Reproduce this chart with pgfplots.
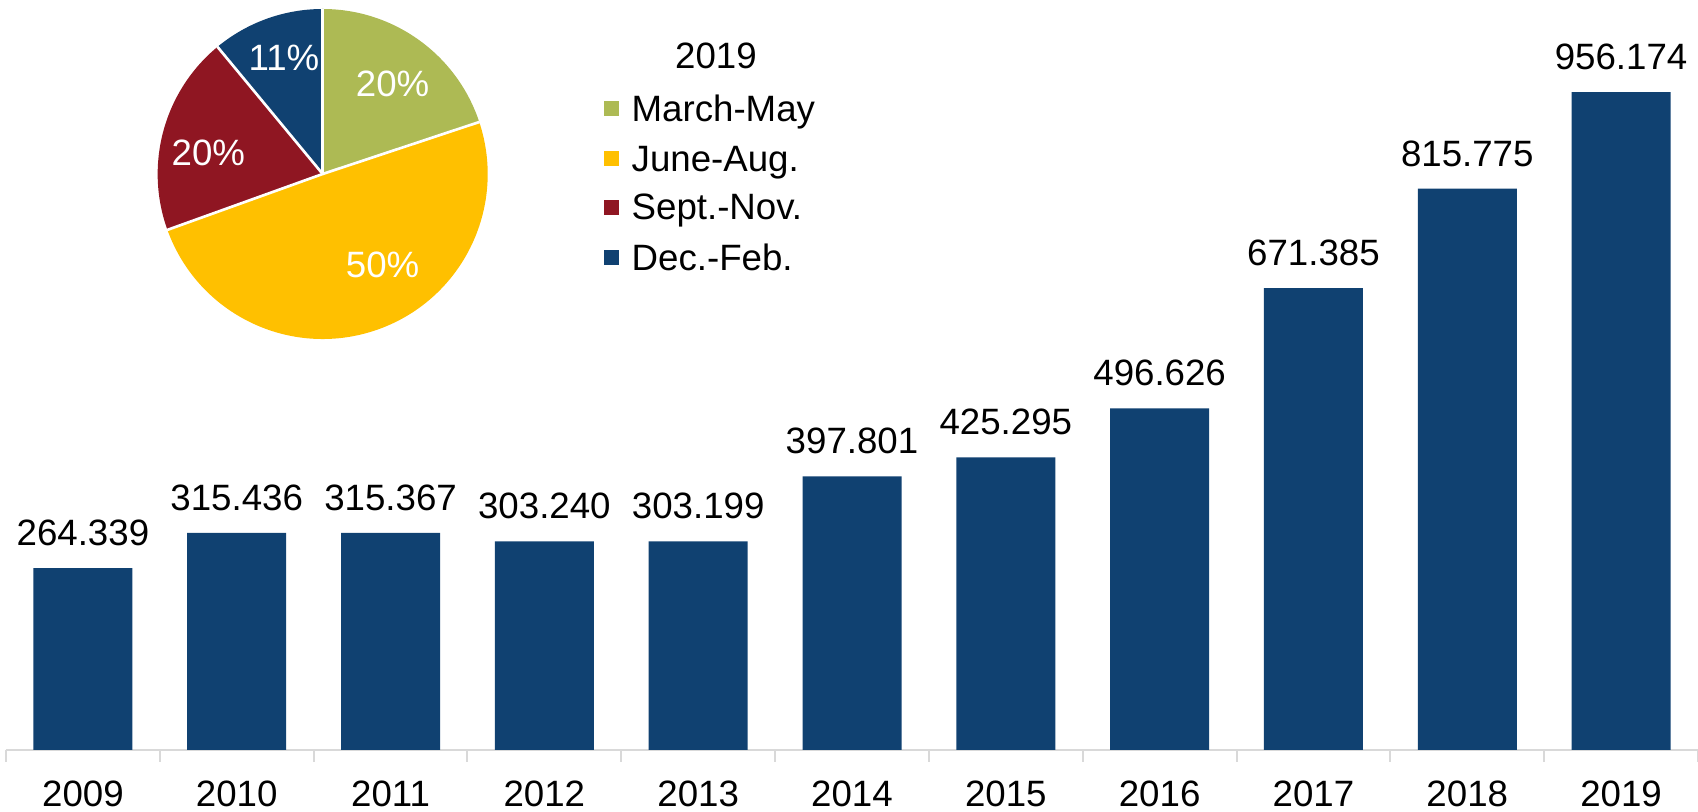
\documentclass[border=0pt]{standalone}
\usepackage{fontspec}
\setmainfont{Liberation Sans}
\usepackage{pgfplots}
\usepackage{pgfplotstable}
\pgfplotsset{compat=1.18}

\definecolor{barblue}{RGB}{16,65,113}
\definecolor{pieG}{RGB}{173,186,84}
\definecolor{pieY}{RGB}{255,192,0}
\definecolor{pieR}{RGB}{143,22,34}
\definecolor{pieB}{RGB}{16,65,113}
\definecolor{axisgray}{RGB}{217,217,217}

\pgfplotstableread{
x  y        lab
0  264.339  264.339
1  315.436  315.436
2  315.367  315.367
3  303.240  303.240
4  303.199  303.199
5  397.801  397.801
6  425.295  425.295
7  496.626  496.626
8  671.385  671.385
9  815.775  815.775
10 956.174  956.174
}\bars

\newcommand{\lbl}{\fontsize{11}{13.2}\selectfont}

\begin{document}
\begin{tikzpicture}
\useasboundingbox (-1.8pt,-18.6pt) rectangle (507.6pt,225pt);
\begin{axis}[
    at={(0,0)}, anchor=south west,
    scale only axis,
    width=507.6pt, height=225pt,
    xmin=-0.5, xmax=10.5,
    ymin=0, ymax=1090,
    axis x line*=bottom,
    axis y line=none,
    x axis line style={draw=axisgray, line width=0.6pt},
    xtick={0,...,10},
    xticklabels={2009,2010,2011,2012,2013,2014,2015,2016,2017,2018,2019},
    minor xtick={-0.5,0.5,...,10.5},
    tick align=outside,
    major tick length=0pt,
    minor tick length=3.6pt,
    minor tick style={draw=axisgray, line width=0.6pt},
    xticklabel style={font=\lbl, anchor=base, yshift=-17.1pt},
    ybar, bar width=29.7pt,
    clip=false,
    nodes near coords,
    point meta=explicit symbolic,
    every node near coord/.append style={font=\lbl, anchor=base, yshift=6.8pt, inner sep=0pt},
]
\addplot[fill=barblue, draw=none] table[x=x, y=y, meta=lab] {\bars};
\end{axis}

% pie (2019 by season), centre and radius in canvas units
\begin{scope}[shift={(95.0pt,172.8pt)}]
  \def\pieang{90}
  \foreach \v/\c in {19.9/pieG, 49.6/pieY, 19.5/pieR, 11.0/pieB}{
    \pgfmathsetmacro\pend{\pieang-3.6*\v}
    \fill[color=\c] (0,0) -- (\pieang:49.5pt) arc[start angle=\pieang, end angle=\pend, radius=49.5pt] -- cycle;
    \global\let\pieang\pend
  }
  \def\pieang{90}
  \foreach \v in {19.9, 49.6, 19.5, 11.0}{
    \draw[white, line width=0.8pt] (0,0) -- (\pieang:49.6pt);
    \pgfmathsetmacro\pend{\pieang-3.6*\v}
    \global\let\pieang\pend
  }
  \node[white, font=\lbl] at (-11.6pt,34.7pt) {11\%};
  \node[white, font=\lbl] at (21pt,27pt) {20\%};
  \node[white, font=\lbl] at (-34.3pt,6.4pt) {20\%};
  \node[white, font=\lbl] at (18pt,-27.3pt) {50\%};
\end{scope}

% legend
\node[font=\lbl, anchor=base, inner sep=0pt] at (213pt,204.5pt) {2019};
\foreach \c/\t/\yb in {pieG/March-May/188.5, pieY/June-Aug./173.5, pieR/Sept.-Nov./159, pieB/Dec.-Feb./143.8}{
  \fill[color=\c] (179.4pt,\yb pt+1.55pt) rectangle ++(4.5pt,4.5pt);
  \node[font=\lbl, anchor=base west, inner sep=0pt] at (187.5pt,\yb pt) {\t};
}
\end{tikzpicture}
\end{document}
